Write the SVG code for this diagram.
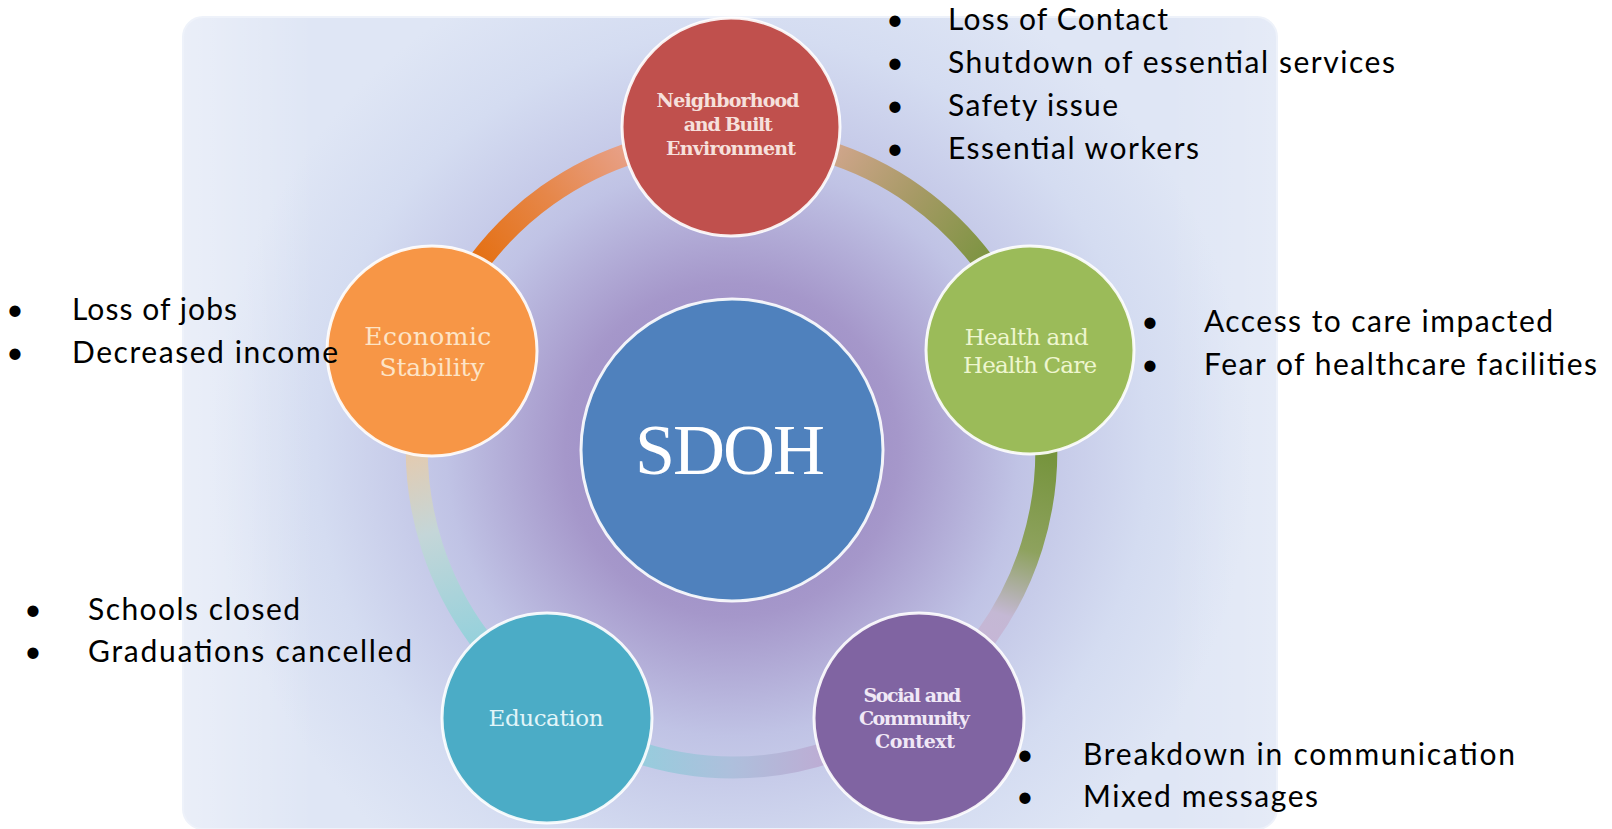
<svg xmlns="http://www.w3.org/2000/svg" width="1612" height="829" viewBox="0 0 1612 829">
  <defs>
    <style>
      .bul { font-family: Lato, "Open Sans", "Liberation Sans", sans-serif; font-size: 30px; fill: #000; }
      .dot { font-family: Lato, "Open Sans", "Liberation Sans", sans-serif; font-size: 30px; fill: #000; text-anchor: middle; }
      .lbl { font-family: "DejaVu Serif", "Liberation Serif", serif; text-anchor: middle; }
      .hub { font-family: "Liberation Serif", "Times New Roman", serif; font-size: 72px; fill: #ffffff; text-anchor: middle; }
      .node { stroke: #ffffff; stroke-width: 3; stroke-opacity: 0.9; }
      .ring { fill: none; stroke-width: 22; stroke-linecap: butt; }
    </style>
    <!-- panel backdrop: pale blue with a lilac glow around the hub -->
    <radialGradient id="panelGlow" gradientUnits="userSpaceOnUse" cx="732" cy="450" r="520">
      <stop offset="0" stop-color="#9080bf"/>
      <stop offset="0.32" stop-color="#a597ca"/>
      <stop offset="0.55" stop-color="#c0c3e5"/>
      <stop offset="0.8" stop-color="#d4dcf1"/>
      <stop offset="1" stop-color="#dfe6f5"/>
    </radialGradient>
    <linearGradient id="panelEdge" x1="0" y1="0" x2="1" y2="0">
      <stop offset="0" stop-color="#ffffff" stop-opacity="0.35"/>
      <stop offset="0.12" stop-color="#ffffff" stop-opacity="0"/>
      <stop offset="0.9" stop-color="#ffffff" stop-opacity="0"/>
      <stop offset="1" stop-color="#ffffff" stop-opacity="0.2"/>
    </linearGradient>
    <!-- ring segment colours, each running from one node centre to the next -->
    <linearGradient id="segOR" gradientUnits="userSpaceOnUse" x1="432" y1="351" x2="731" y2="127">
      <stop offset="0.2" stop-color="#e46c0a"/>
      <stop offset="0.5" stop-color="#e6874a"/>
      <stop offset="0.85" stop-color="#e8aca4"/>
    </linearGradient>
    <linearGradient id="segRG" gradientUnits="userSpaceOnUse" x1="731" y1="127" x2="1030" y2="350">
      <stop offset="0.2" stop-color="#d9a894"/>
      <stop offset="0.5" stop-color="#a79a66"/>
      <stop offset="0.8" stop-color="#76933c"/>
    </linearGradient>
    <linearGradient id="segGP" gradientUnits="userSpaceOnUse" x1="1030" y1="350" x2="919" y2="718">
      <stop offset="0.25" stop-color="#76943d"/>
      <stop offset="0.5" stop-color="#8ea25e"/>
      <stop offset="0.68" stop-color="#c4b8d4"/>
      <stop offset="0.85" stop-color="#c8b4d8"/>
    </linearGradient>
    <linearGradient id="segPT" gradientUnits="userSpaceOnUse" x1="919" y1="718" x2="547" y2="718">
      <stop offset="0.2" stop-color="#c0a8d2"/>
      <stop offset="0.5" stop-color="#aebfdc"/>
      <stop offset="0.8" stop-color="#92cfdd"/>
    </linearGradient>
    <linearGradient id="segTO" gradientUnits="userSpaceOnUse" x1="547" y1="718" x2="432" y2="351">
      <stop offset="0.2" stop-color="#8fd0dc"/>
      <stop offset="0.55" stop-color="#c4d6d8"/>
      <stop offset="0.85" stop-color="#f0c6a0"/>
    </linearGradient>
  </defs>

  <rect width="1612" height="829" fill="#ffffff"/>

  <!-- backdrop panel -->
  <g id="panel">
    <rect x="183" y="17" width="1094" height="812" rx="20" fill="url(#panelGlow)"/>
    <rect x="183" y="17" width="1094" height="812" rx="20" fill="url(#panelEdge)" stroke="#eef2fa" stroke-width="2"/>
  </g>

  <!-- ring linking the five determinants -->
  <g id="connectors">
    <path class="ring" stroke="url(#segOR)" d="M 432 351 A 311 315 0 0 1 731 138"/>
    <path class="ring" stroke="url(#segRG)" d="M 731 138 A 311 315 0 0 1 1030 350"/>
    <path class="ring" stroke="url(#segGP)" d="M 1030 350 A 311 315 0 0 1 919 705"/>
    <path class="ring" stroke="url(#segPT)" d="M 919 705 A 311 315 0 0 1 547 705"/>
    <path class="ring" stroke="url(#segTO)" d="M 547 705 A 311 315 0 0 1 432 351"/>
  </g>

  <g id="node-sdoh">
    <circle class="node" cx="732" cy="450" r="151" fill="#4f81bd"/>
    <text class="hub" x="730" y="474" textLength="190">SDOH</text>
  </g>

  <g id="node-neighborhood">
    <circle class="node" cx="731" cy="127" r="109" fill="#c0504d"/>
    <text class="lbl" font-size="19" font-weight="bold" fill="#f6e0dc">
      <tspan x="731" y="107" textLength="143">Neighborhood</tspan>
      <tspan x="731" y="131" textLength="89">and Built</tspan>
      <tspan x="731" y="155" textLength="130">Environment</tspan>
    </text>
  </g>

  <g id="node-economic">
    <circle class="node" cx="432" cy="351" r="105" fill="#f79646"/>
    <text class="lbl" font-size="25" fill="#fde4c6">
      <tspan x="432" y="345" textLength="127">Economic</tspan>
      <tspan x="432" y="376" textLength="105">Stability</tspan>
    </text>
  </g>

  <g id="node-health">
    <circle class="node" cx="1030" cy="350" r="104" fill="#9bbb59"/>
    <text class="lbl" font-size="23" fill="#eef6cf">
      <tspan x="1030" y="345" textLength="124">Health and</tspan>
      <tspan x="1030" y="373" textLength="134">Health Care</tspan>
    </text>
  </g>

  <g id="node-education">
    <circle class="node" cx="547" cy="718" r="105" fill="#4bacc6"/>
    <text class="lbl" x="546" y="726" font-size="23" fill="#e2f5f9" textLength="115">Education</text>
  </g>

  <g id="node-social">
    <circle class="node" cx="919" cy="718" r="105" fill="#8064a2"/>
    <text class="lbl" font-size="19" font-weight="bold" fill="#f0e8f6">
      <tspan x="915" y="702" textLength="98">Social and</tspan>
      <tspan x="917" y="725" textLength="111">Community</tspan>
      <tspan x="915" y="748" textLength="80">Context</tspan>
    </text>
  </g>

  <!-- impact notes beside each determinant -->
  <g id="notes-neighborhood">
    <text class="dot" x="895" y="30">•</text>
    <text class="bul" x="948" y="30" textLength="220">Loss of Contact</text>
    <text class="dot" x="895" y="73">•</text>
    <text class="bul" x="948" y="73" textLength="447">Shutdown of essential services</text>
    <text class="dot" x="895" y="116">•</text>
    <text class="bul" x="948" y="116" textLength="170">Safety issue</text>
    <text class="dot" x="895" y="159">•</text>
    <text class="bul" x="948" y="159" textLength="251">Essential workers</text>
  </g>

  <g id="notes-economic">
    <text class="dot" x="15" y="320">•</text>
    <text class="bul" x="72" y="320" textLength="165">Loss of jobs</text>
    <text class="dot" x="15" y="363">•</text>
    <text class="bul" x="72" y="363" textLength="266">Decreased income</text>
  </g>

  <g id="notes-health">
    <text class="dot" x="1150" y="332">•</text>
    <text class="bul" x="1204" y="332" textLength="349">Access to care impacted</text>
    <text class="dot" x="1150" y="375">•</text>
    <text class="bul" x="1204" y="375" textLength="393">Fear of healthcare facilities</text>
  </g>

  <g id="notes-education">
    <text class="dot" x="33" y="620">•</text>
    <text class="bul" x="88" y="620" textLength="212">Schools closed</text>
    <text class="dot" x="33" y="662">•</text>
    <text class="bul" x="88" y="662" textLength="324">Graduations cancelled</text>
  </g>

  <g id="notes-social">
    <text class="dot" x="1025" y="765">•</text>
    <text class="bul" x="1083" y="765" textLength="432">Breakdown in communication</text>
    <text class="dot" x="1025" y="807">•</text>
    <text class="bul" x="1083" y="807" textLength="235">Mixed messages</text>
  </g>
</svg>
